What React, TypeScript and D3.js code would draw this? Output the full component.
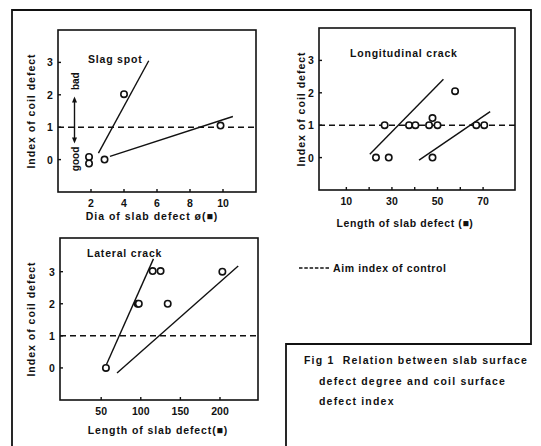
import React from "react";
import * as d3 from "d3";

// Slag spot panel
const slagX = [1.88, 1.88, 2.82, 4.0, 9.85];
const slagY = [0.08, -0.12, 0, 2.02, 1.05];
const slagLineA = [[2.45, 0.2], [5.5, 3.05]];
const slagLineB = [[3.15, 0.1], [10.6, 1.33]];
const slagTicksX = [2, 4, 6, 8, 10];

// Longitudinal crack panel
const longX = [23, 28.6, 47.8, 26.8, 37.5, 40.3, 46.3, 50, 67, 70.5, 47.8, 57.7];
const longY = [0, 0, 0, 1, 1, 1, 1, 1, 1, 1, 1.22, 2.05];
const longLineA = [[20.3, 0.1], [52.6, 2.42]];
const longLineB = [[41.9, -0.08], [73.1, 1.42]];
const longTicksX = [10, 20, 30, 40, 50, 60, 70];
const longLabelsX = [10, 30, 50, 70];

// Lateral crack panel
const latX = [56, 96, 97.5, 115, 125, 134, 203];
const latY = [0, 2, 2, 3.02, 3.02, 2, 3];
const latLineA = [[54.7, 0], [116, 3.4]];
const latLineB = [[70, -0.16], [223, 3.18]];
const latTicksX = [50, 100, 150, 200];

const ticksY = [0, 1, 2, 3];
const aimIndex = 1;

const captionLines = [
  "Fig 1  Relation between slab surface",
  "defect degree and coil surface",
  "defect index",
];

const FONT = "'Liberation Sans', Arial, sans-serif";
const INK = "#111";

function Panel({ box, xDomain, yDomain, xs, ys, lines, ticksX, labelsX, title, titlePos, xTitle, xTitleX, xTitleY, xTitleSpacing, yTitleX, children }) {
  const x = d3.scaleLinear().domain(xDomain).range([box[0], box[2]]);
  const y = d3.scaleLinear().domain(yDomain).range([box[3], box[1]]);
  const line = d3.line().x((d) => x(d[0])).y((d) => y(d[1]));
  const labX = labelsX || ticksX;
  return (
    <g>
      <rect x={box[0]} y={box[1]} width={box[2] - box[0]} height={box[3] - box[1]} fill="none" stroke={INK} strokeWidth={1.6} />
      {ticksX.map((t) => (
        <line key={"tx" + t} x1={x(t)} x2={x(t)} y1={box[3]} y2={box[3] - 3} stroke={INK} strokeWidth={1.4} />
      ))}
      {labX.map((t) => (
        <text key={"lx" + t} x={x(t)} y={box[3] + 15} textAnchor="middle" fontSize={10.5} fontWeight="bold" fontFamily={FONT} fill={INK}>{t}</text>
      ))}
      {ticksY.map((t) => (
        <g key={"ty" + t}>
          <line x1={box[0]} x2={box[0] + 3} y1={y(t)} y2={y(t)} stroke={INK} strokeWidth={1.4} />
          <text x={box[0] - 8} y={y(t) + 4} textAnchor="middle" fontSize={10.5} fontWeight="bold" fontFamily={FONT} fill={INK}>{t}</text>
        </g>
      ))}
      <line x1={box[0]} x2={box[2]} y1={y(aimIndex)} y2={y(aimIndex)} stroke={INK} strokeWidth={1.5} strokeDasharray="6 4" />
      {lines.map((l, i) => (
        <path key={"l" + i} d={line(l)} fill="none" stroke={INK} strokeWidth={1.4} />
      ))}
      {xs.map((v, i) => (
        <circle key={"p" + i} cx={x(v)} cy={y(ys[i])} r={3.2} fill="white" stroke={INK} strokeWidth={1.6} />
      ))}
      <text x={titlePos[0]} y={titlePos[1]} fontSize={10.5} fontWeight="bold" fontFamily={FONT} letterSpacing={0.8} fill={INK}>{title}</text>
      <text x={xTitleX} y={xTitleY} textAnchor="middle" fontSize={10.5} fontWeight="bold" fontFamily={FONT} letterSpacing={xTitleSpacing} fill={INK}>{xTitle}</text>
      <text transform={`translate(${yTitleX},${(box[1] + box[3]) / 2}) rotate(-90)`} textAnchor="middle" fontSize={10.5} fontWeight="bold" fontFamily={FONT} letterSpacing={1} fill={INK}>Index of coil defect</text>
      {children && children(x, y)}
    </g>
  );
}

export default function App() {
  return (
    <svg width={541} height={446} style={{ position: "absolute", left: 0, top: 0, background: "white" }}>
      <rect x={0} y={0} width={541} height={446} fill="white" />
      {/* outer frame */}
      <path d="M12,446 L12,10 L531,10 L531,344 L286,344 L286,446" fill="none" stroke={INK} strokeWidth={1.8} />

      <Panel
        box={[58, 30, 256, 192]}
        xDomain={[0, 12]}
        yDomain={[-1, 4]}
        xs={slagX}
        ys={slagY}
        lines={[slagLineA, slagLineB]}
        ticksX={slagTicksX}
        title="Slag spot"
        titlePos={[88, 63]}
        xTitle="Dia of slab defect ø(■)"
        xTitleX={152}
        xTitleY={220}
        xTitleSpacing={1}
        yTitleX={35}
      >
        {(x, y) => (
          <g>
            <line x1={x(1)} x2={x(1)} y1={y(1.85)} y2={y(0.6)} stroke={INK} strokeWidth={1.4} />
            <path d={`M${x(1)},${y(1.95)} l-2.5,6 l5,0 z`} fill={INK} />
            <path d={`M${x(1)},${y(0.5)} l-2.5,-6 l5,0 z`} fill={INK} />
            <text transform={`translate(${x(1.25)},${y(2.42)}) rotate(-90)`} textAnchor="middle" fontSize={10} fontWeight="bold" fontFamily={FONT} fill={INK}>bad</text>
            <text transform={`translate(${x(1.25)},${y(0.02)}) rotate(-90)`} textAnchor="middle" fontSize={10} fontWeight="bold" fontFamily={FONT} fill={INK}>good</text>
          </g>
        )}
      </Panel>

      <Panel
        box={[319, 28, 515, 190]}
        xDomain={[-2, 84]}
        yDomain={[-1, 4]}
        xs={longX}
        ys={longY}
        lines={[longLineA, longLineB]}
        ticksX={longTicksX}
        labelsX={longLabelsX}
        title="Longitudinal crack"
        titlePos={[350, 57]}
        xTitle="Length of slab defect (■)"
        xTitleX={405}
        xTitleY={227}
        xTitleSpacing={0.6}
        yTitleX={305}
      />

      <Panel
        box={[60, 238, 258, 400]}
        xDomain={[-2, 248]}
        yDomain={[-1, 4.05]}
        xs={latX}
        ys={latY}
        lines={[latLineA, latLineB]}
        ticksX={latTicksX}
        title="Lateral crack"
        titlePos={[87, 257]}
        xTitle="Length of slab defect(■)"
        xTitleX={158}
        xTitleY={434}
        xTitleSpacing={0.9}
        yTitleX={35}
      />

      {/* legend */}
      <line x1={299} x2={330} y1={268} y2={268} stroke={INK} strokeWidth={1.6} strokeDasharray="3.5 1.8" />
      <text x={333} y={272} fontSize={10.5} fontWeight="bold" fontFamily={FONT} letterSpacing={0.6} fill={INK}>Aim index of control</text>

      {/* caption */}
      <g fontSize={10.5} fontWeight="bold" fontFamily={FONT} letterSpacing={1.2} fill={INK}>
        {captionLines.map((c, i) => (
          <text key={i} x={i === 0 ? 304 : 319} y={364 + i * 20.5} xmlSpace="preserve">{c}</text>
        ))}
      </g>
    </svg>
  );
}
